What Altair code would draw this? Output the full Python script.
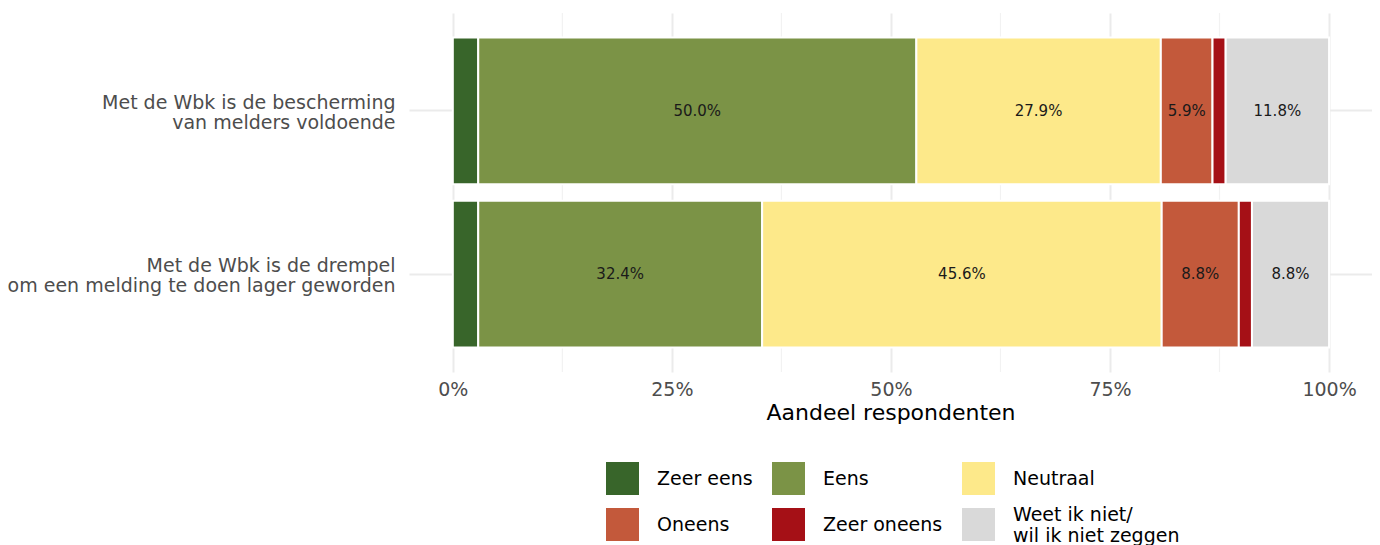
import altair as alt
import pandas as pd

# ---- data ----
statements = [
    "Met de Wbk is de bescherming|van melders voldoende",
    "Met de Wbk is de drempel |om een melding te doen lager geworden",
]
categories = ["Zeer eens", "Eens", "Neutraal", "Oneens", "Zeer oneens",
              "Weet ik niet/|wil ik niet zeggen"]
colors = ["#38652a", "#7b9346", "#fde98a", "#c3593b", "#a51016", "#d9d9d9"]
values_bescherming = [2.9, 50.0, 27.9, 5.9, 1.5, 11.8]
values_drempel = [2.9, 32.4, 45.6, 8.8, 1.5, 8.8]
major_breaks = [0, 25, 50, 75, 100]
minor_breaks = [12.5, 37.5, 62.5, 87.5]

rows = []
for s, vals in zip(statements, [values_bescherming, values_drempel]):
    for i, (c, v) in enumerate(zip(categories, vals)):
        rows.append({"statement": s, "category": c, "pct": v, "idx": i})
df = pd.DataFrame(rows)

FONT = "DejaVu Sans"
x_scale = alt.Scale(domain=[-5, 104.9], nice=False, zero=False)
y_scale = alt.Scale(domain=statements, paddingInner=0.1, paddingOuter=0.15)

x_axis = alt.Axis(values=major_breaks, labelExpr="datum.value + '%'",
                  grid=True, gridColor="#ebebeb", gridWidth=2,
                  ticks=False, domain=False, labelFont=FONT, labelFontSize=19,
                  labelColor="#4d4d4d", labelPadding=8, titleFont=FONT,
                  titleFontSize=22, titleFontWeight="normal", titleColor="black",
                  titlePadding=3)
y_axis = alt.Axis(title=None, labelExpr="split(datum.label, '|')",
                  grid=True, gridColor="#ebebeb", gridWidth=2, bandPosition=0.5,
                  ticks=False, domain=False, labelFont=FONT, labelFontSize=19,
                  labelColor="#4d4d4d", labelPadding=14, labelLineHeight=20,
                  labelOffset=-8, labelLimit=600)

base = alt.Chart(df).transform_stack(
    stack="pct", groupby=["statement"], as_=["x0", "x1"],
    sort=[alt.SortField("idx", order="ascending")]
).transform_calculate(
    mid="(datum.x0 + datum.x1) / 2",
    label="datum.pct >= 5 ? format(datum.pct, '.1f') + '%' : ''"
)

minor = alt.Chart(pd.DataFrame({"v": minor_breaks})).mark_rule(
    color="#f2f2f2", strokeWidth=1.2
).encode(x=alt.X("v:Q", scale=x_scale, axis=x_axis, title="Aandeel respondenten"))

bars = base.mark_bar(stroke="white", strokeWidth=2).encode(
    y=alt.Y("statement:N", scale=y_scale, axis=y_axis, sort=statements),
    x=alt.X("x0:Q", scale=x_scale, axis=x_axis, title="Aandeel respondenten"),
    x2="x1:Q",
    color=alt.Color("category:N", scale=alt.Scale(domain=categories, range=colors),
                    legend=alt.Legend(title=None, orient="none", legendX=197, legendY=449,
                                      columns=3, direction="horizontal", gridAlign="each",
                                      symbolType="square", symbolSize=1089,
                                      symbolStrokeWidth=0, labelFont=FONT,
                                      labelFontSize=19, labelColor="black",
                                      labelOffset=18, columnPadding=19, rowPadding=10,
                                      labelLimit=400, padding=0,
                                      labelBaseline={"expr": "indexof(datum.label, '|') >= 0 ? 'bottom' : 'middle'"},
                                      labelExpr="split(datum.label, '|')")),
)

texts = base.mark_text(font=FONT, fontSize=15, color="#1a1a1a").encode(
    y=alt.Y("statement:N", scale=y_scale, axis=y_axis, sort=statements),
    x=alt.X("mid:Q", scale=x_scale, axis=x_axis, title="Aandeel respondenten"),
    text="label:N",
)

chart = alt.layer(minor, bars, texts).properties(
    width=963, height=359,
    autosize=alt.AutoSizeParams(type="none"),
    padding={"left": 401, "top": 5, "right": 0, "bottom": 173},
).configure(background="white").configure_view(stroke=None)

chart.save("out.html", embed_options={"renderer": "svg", "actions": False})
